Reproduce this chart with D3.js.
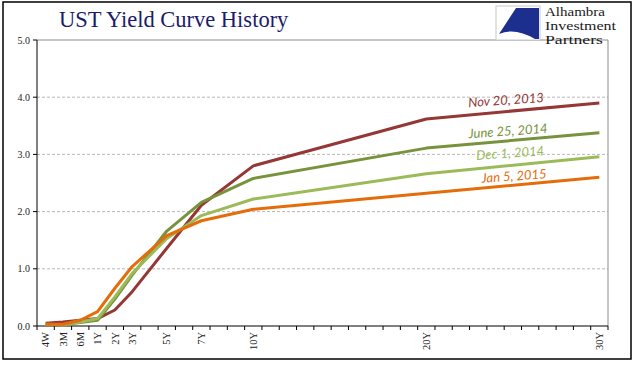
<!DOCTYPE html>
<html><head><meta charset="utf-8">
<script src="https://cdn.jsdelivr.net/npm/d3@7"></script>
<style>body{margin:0;background:#fff}svg{display:block}</style>
</head><body>
<svg id="c" width="641" height="381"></svg>
<script>
// ---- data ----
const maturities = ["4W","3M","6M","1Y","2Y","3Y","5Y","7Y","10Y","20Y","30Y"];
const nov2013 = [0.05,0.07,0.10,0.13,0.28,0.60,1.36,2.11,2.80,3.62,3.90];
const jun2014 = [0.02,0.02,0.06,0.10,0.47,0.89,1.66,2.16,2.58,3.11,3.38];
const dec2014 = [0.03,0.02,0.07,0.13,0.51,0.92,1.53,1.93,2.22,2.66,2.96];
const jan2015 = [0.03,0.03,0.10,0.25,0.66,1.04,1.58,1.84,2.04,2.32,2.60];
const seriesNames = ["Nov 20, 2013","June 25, 2014","Dec 1, 2014","Jan 5, 2015"];
const seriesColors = ["#953735","#77933C","#9BBB59","#E46C0A"];
const yTicks = [0,1,2,3,4,5];
const tickLabels = ["4W","3M","6M","1Y","2Y","3Y","5Y","7Y","10Y","20Y","30Y"];
// axis slots: monthly buckets then one per year
const slots = ["4W","3M","6M"].concat(d3.range(1,31).map(d=>d+"Y"));

const svg = d3.select("#c");
const L=37, R=608, T=40, B=326;
const x = d3.scaleBand().domain(slots).range([L,R]).paddingInner(0).paddingOuter(0);
const y = d3.scaleLinear().domain([0,5]).range([B,T]);
const cx = k => x(k)+x.bandwidth()/2;

// outer frame
svg.append("rect").attr("x",3).attr("y",2).attr("width",628).attr("height",357)
  .attr("fill","#fff").attr("stroke","#000").attr("stroke-width",1.5);

// title
svg.append("text").attr("x",59).attr("y",27).text("UST Yield Curve History")
  .attr("font-family","Liberation Serif, Times New Roman, serif").attr("font-size",22.5)
  .attr("fill","#1b1b6b");

// gridlines
yTicks.filter(v=>v>0&&v<5).forEach(v=>{
  svg.append("line").attr("x1",L).attr("x2",R).attr("y1",y(v)).attr("y2",y(v))
    .attr("stroke","#a6a6a6").attr("stroke-width",0.8).attr("stroke-dasharray","3,2");
});
// top line & right border
svg.append("line").attr("x1",L).attr("x2",R).attr("y1",y(5)).attr("y2",y(5)).attr("stroke","#8c8c8c").attr("stroke-width",1);
svg.append("line").attr("x1",R).attr("x2",R).attr("y1",y(5)).attr("y2",B).attr("stroke","#8c8c8c").attr("stroke-width",1);

// y axis
const ya = svg.append("g");
ya.append("line").attr("x1",L).attr("x2",L).attr("y1",T).attr("y2",B).attr("stroke","#000");
yTicks.forEach(v=>{
  ya.append("line").attr("x1",L-4).attr("x2",L).attr("y1",y(v)).attr("y2",y(v)).attr("stroke","#000");
  ya.append("text").attr("x",L-7).attr("y",y(v)).attr("dy","0.35em").attr("text-anchor","end")
    .attr("font-family","Liberation Serif, serif").attr("font-size",10).attr("fill","#222")
    .text(d3.format(".1f")(v));
});

// x axis
const xa = svg.append("g");
xa.append("line").attr("x1",L).attr("x2",R).attr("y1",B).attr("y2",B).attr("stroke","#000");
slots.forEach(k=>{
  xa.append("line").attr("x1",x(k)).attr("x2",x(k)).attr("y1",B).attr("y2",B+4).attr("stroke","#000");
});
xa.append("line").attr("x1",R).attr("x2",R).attr("y1",B).attr("y2",B+4).attr("stroke","#000");
tickLabels.forEach(k=>{
  xa.append("text").attr("transform",`translate(${cx(k)},${B+6}) rotate(-90)`)
    .attr("text-anchor","end").attr("dy","0.35em")
    .attr("font-family","Liberation Serif, serif").attr("font-size",10.5).attr("fill","#222")
    .text(k);
});

// lines
const allSeries = [nov2013,jun2014,dec2014,jan2015];
const line = d3.line().x((d,i)=>cx(maturities[i])).y(d=>y(d));
allSeries.forEach((s,i)=>{
  svg.append("path").datum(s).attr("d",line).attr("fill","none")
    .attr("stroke",seriesColors[i]).attr("stroke-width",3).attr("stroke-linejoin","round");
});

// series labels
const labelPos = [[506,100],[508,131],[510,153],[514,176]];
seriesNames.forEach((n,i)=>{
  svg.append("text").attr("transform",`translate(${labelPos[i][0]},${labelPos[i][1]}) rotate(-4)`)
    .attr("text-anchor","middle").attr("dy","0.35em")
    .attr("font-family","Lato, 'Open Sans', sans-serif").attr("font-style","italic")
    .attr("font-size",13).attr("fill",seriesColors[i]).text(n);
});

// logo
const lg = svg.append("g");
lg.append("rect").attr("x",496).attr("y",6).attr("width",44).attr("height",34)
  .attr("fill","#fff").attr("stroke","#c8c8c8").attr("stroke-width",1);
lg.append("path").attr("d","M499,34 L516,8 L539,8 L539,39 L535,39 Q515,27 499,34 Z").attr("fill","#1c2f8f");
const logoWidths = [60,71,58];
["Alhambra","Investment","Partners"].forEach((t,i)=>{
  lg.append("text").attr("x",545).attr("y",16+i*14).text(t)
    .attr("font-family","Liberation Serif, serif").attr("font-size",12).attr("fill","#1a1a1a")
    .attr("textLength",logoWidths[i]).attr("lengthAdjust","spacingAndGlyphs");
});
</script>
</body></html>
